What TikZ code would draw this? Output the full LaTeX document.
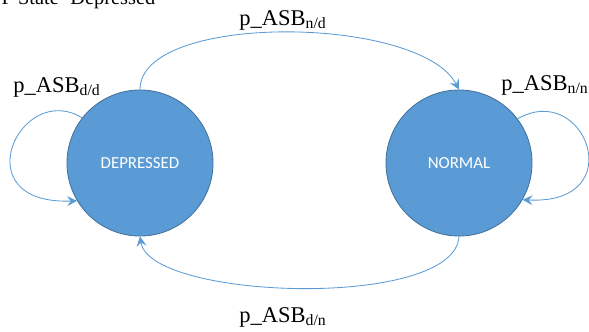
\documentclass[tikz,border=0pt]{standalone}
\usepackage{fontspec}
\setmainfont{Liberation Serif}
\newfontfamily\calib{Carlito}
\usetikzlibrary{arrows.meta}

\definecolor{stateblue}{HTML}{5B9BD5}
\definecolor{stateedge}{HTML}{41719C}

\tikzset{
  state/.style={circle,fill=stateblue,draw=stateedge,line width=0.6pt,
    minimum size=3.65cm,text=white,font=\calib\fontsize{12}{14}\selectfont},
  trans/.style={draw=stateblue,line width=0.6pt,
    -{Stealth[length=7pt,width=7pt,inset=2.5pt]}},
  prob/.style={font=\fontsize{16}{19}\selectfont,inner sep=1pt}
}

\begin{document}
\begin{tikzpicture}[x=0.025cm,y=-0.025cm]
\useasboundingbox (0,0) rectangle (589,331);

% title line, cut off at the top of the page
\node[prob,font=\fontsize{14.5}{17}\selectfont,anchor=base west] (title) at (0,4) {P State=Depressed};

\node[state] (dep) at (140,163) {DEPRESSED};
\node[state] (nor) at (459,163) {NORMAL};

% self loops
\draw[trans] (dep.142) .. controls (20,80) and (-38,205) .. (dep.211);
\draw[trans] (nor.37) .. controls (585,80) and (632,205) .. (nor.330);

% between the states
\draw[trans] (dep.north) .. controls (140,12) and (420,15) .. (nor.north);
\draw[trans] (nor.south) .. controls (455,310) and (150,300) .. (dep.south);

\node[prob] (ldd) at (57,87) {p\_ASB\textsubscript{d/d}};
\node[prob] (lnd) at (283,20) {p\_ASB\textsubscript{n/d}};
\node[prob] (lnn) at (545,85) {p\_ASB\textsubscript{n/n}};
\node[prob] (ldn) at (283,317) {p\_ASB\textsubscript{d/n}};
\end{tikzpicture}
\end{document}
